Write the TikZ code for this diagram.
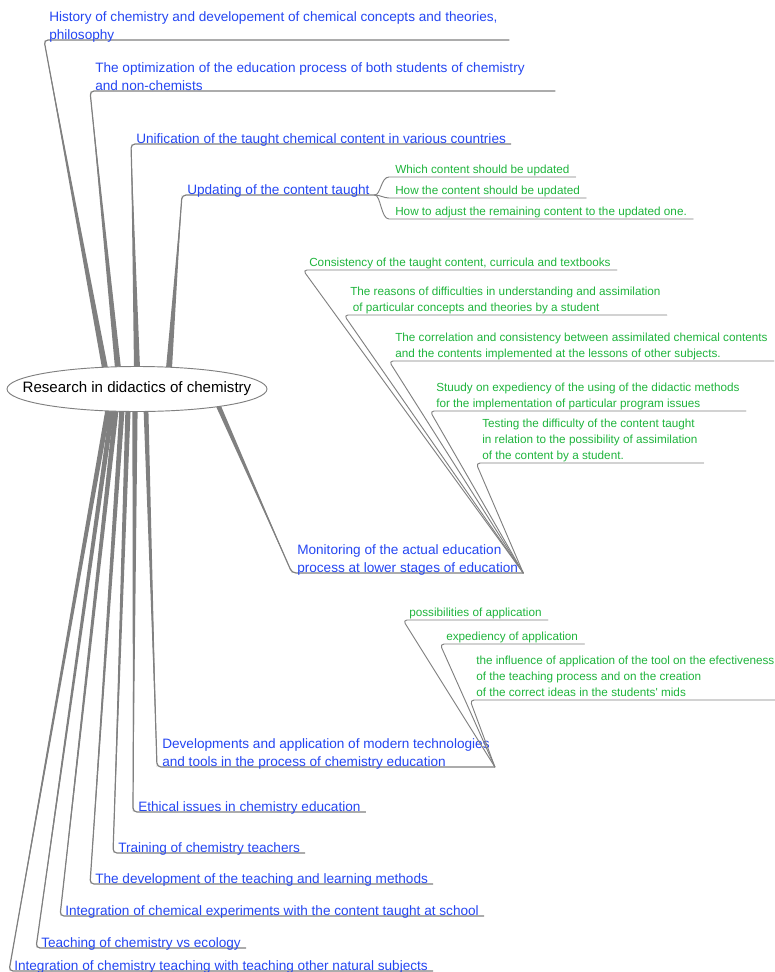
\documentclass[tikz,border=0pt]{standalone}
\usepackage{fontspec}
\setmainfont{Liberation Sans}
\usetikzlibrary{backgrounds,calc}
\definecolor{mmBlue}{HTML}{2446F2}
\definecolor{mmGreen}{HTML}{1EB43C}
\definecolor{mmLine}{HTML}{808080}
\tikzset{
  mm map/.style={x=0.75pt, y=-0.75pt, line cap=round, line join=round},
  mm root/.style={minimum width=195pt, minimum height=33.75pt, inner sep=0pt,
    font=\fontsize{11.3}{13}\selectfont},
  mm oval/.style={draw=mmLine, line width=0.7pt, fill=white},
  mm topic/.style={anchor=south west, align=left, inner xsep=3.75pt, inner ysep=0pt,
    text=mmBlue, font=\fontsize{10.2}{13.5}\selectfont, text depth=0pt},
  mm sub/.style={anchor=south west, align=left, inner xsep=4.5pt, inner ysep=0pt,
    text=mmGreen, font=\fontsize{8.8}{12}\selectfont, text depth=2.2pt},
  mm taper/.style={fill=mmLine},
  mm stem/.style={draw=mmLine, line width=0.9pt, rounded corners=3pt},
  mm twig/.style={draw=mmLine, line width=0.7pt, rounded corners=3pt},
  mm brace/.style={draw=mmLine, line width=0.7pt}
}
% tapered branch: root point, topic node, half width at the root
\newcommand{\mmbranch}[3]{%
  \fill[mm taper] ($(#1)+(-#3,0)$) -- (#2.south west) -- ($(#1)+(#3,0)$) -- cycle;
  \draw[mm stem] (#1) -- (#2.south west) -- (#2.south east);}

\begin{document}
\begin{tikzpicture}[mm map]
\useasboundingbox (0,0) rectangle (775,972);

\path[mm oval] (137,389) ellipse [x radius=130, y radius=22.5];
\node[mm root] (root) at (137,389) {Research in didactics of chemistry};

% upper topics
\node[mm topic] (hist) at (44,40) {History of chemistry and developement of chemical concepts and theories,\hspace*{5pt}\\philosophy};
\node[mm topic] (optim) at (90,91) {The optimization of the education process of both students of chemistry\hspace*{19pt}\\and non-chemists};
\node[mm topic] (unif) at (131,144) {Unification of the taught chemical content in various countries};
\node[mm topic] (upd) at (182,195) {Updating of the content taught};
\node[mm sub] (upd-a) at (389,177) {Which content should be updated};
\node[mm sub] (upd-b) at (389,198) {How the content should be updated};
\node[mm sub] (upd-c) at (389,219) {How to adjust the remaining content to the updated one.};

% monitoring
\node[mm topic] (mon) at (292,573) {Monitoring of the actual education\\process at lower stages of education};
\node[mm sub] (mon-a) at (303,270) {Consistency of the taught content, curricula and textbooks};
\node[mm sub] (mon-b) at (344,315) {The reasons of difficulties in understanding and assimilation\\\hspace*{2pt}of particular concepts and theories by a student};
\node[mm sub] (mon-c) at (389,361) {The correlation and consistency between assimilated chemical contents\\and the contents implemented at the lessons of other subjects.};
\node[mm sub] (mon-d) at (430,411) {Stuudy on expediency of the using of the didactic methods\\for the implementation of particular program issues};
\node[mm sub] (mon-e) at (476,463) {Testing the difficulty of the content taught\\in relation to the possibility of assimilation\\of the content by a student.};

% developments
\node[mm topic] (dev) at (157,767) {Developments and application of modern technologies\\and tools in the process of chemistry education};
\node[mm sub] (dev-a) at (403,620) {possibilities of application};
\node[mm sub] (dev-b) at (440,644) {expediency of application};
\node[mm sub] (dev-c) at (470,700) {the influence of application of the tool on the efectiveness\\of the teaching process and on the creation\\of the correct ideas in the students\textquotesingle{} mids};

% lower topics
\node[mm topic] (ethic) at (133,812) {Ethical issues in chemistry education};
\node[mm topic] (train) at (113,853) {Training of chemistry teachers};
\node[mm topic] (methods) at (90,884) {The development of the teaching and learning methods};
\node[mm topic] (exper) at (60,916) {Integration of chemical experiments with the content taught at school};
\node[mm topic] (ecol) at (36,948) {Teaching of chemistry vs ecology};
\node[mm topic] (natsci) at (9,971) {Integration of chemistry teaching with teaching other natural subjects};

% where the branches leave the root
\coordinate (r-hist) at ($(root.north)+(-32,2)$);
\coordinate (r-optim) at ($(root.north)+(-19,2)$);
\coordinate (r-unif) at ($(root.north)+(0,2)$);
\coordinate (r-upd) at ($(root.north)+(32,2)$);
\coordinate (r-mon) at ($(root.center)+(81,16)$);
\coordinate (r-dev) at ($(root.south)+(9,-2)$);
\coordinate (r-ethic) at ($(root.south)+(-2,-2)$);
\coordinate (r-train) at ($(root.south)+(-9,-2)$);
\coordinate (r-methods) at ($(root.south)+(-15,-2)$);
\coordinate (r-exper) at ($(root.south)+(-21,-2)$);
\coordinate (r-ecol) at ($(root.south)+(-25,-2)$);
\coordinate (r-natsci) at ($(root.south)+(-29,-2)$);

\begin{scope}[on background layer]
\mmbranch{r-hist}{hist}{3}
\mmbranch{r-optim}{optim}{3}
\mmbranch{r-unif}{unif}{3}
\mmbranch{r-upd}{upd}{3}
\mmbranch{r-mon}{mon}{2.6}
\mmbranch{r-dev}{dev}{2.4}
\mmbranch{r-ethic}{ethic}{2.6}
\mmbranch{r-train}{train}{2.6}
\mmbranch{r-methods}{methods}{2.6}
\mmbranch{r-exper}{exper}{2.6}
\mmbranch{r-ecol}{ecol}{2.6}
\mmbranch{r-natsci}{natsci}{2.6}
\end{scope}

% sub topics
\draw[mm brace] (upd.south east) .. controls +(6,0) and +(-8,0) .. (upd-a.south west) -- (upd-a.south east);
\draw[mm brace] (upd.south east) .. controls +(5,0) and +(-5,0) .. (upd-b.south west) -- (upd-b.south east);
\draw[mm brace] (upd.south east) .. controls +(6,0) and +(-8,0) .. (upd-c.south west) -- (upd-c.south east);
\foreach \s in {mon-a,mon-b,mon-c,mon-d,mon-e}
  \draw[mm twig] (mon.south east) -- (\s.south west) -- (\s.south east);
\foreach \s in {dev-a,dev-b,dev-c}
  \draw[mm twig] (dev.south east) -- (\s.south west) -- (\s.south east);
\end{tikzpicture}
\end{document}
